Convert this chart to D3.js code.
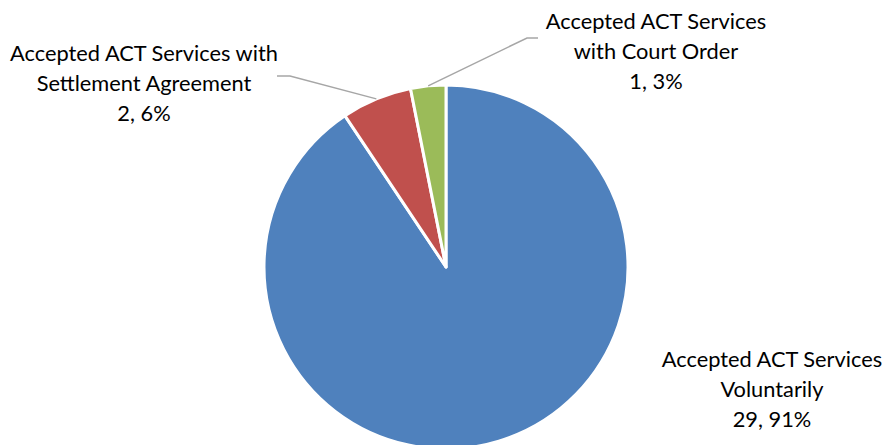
<!DOCTYPE html>
<html>
<head>
<meta charset="utf-8">
<script src="https://cdn.jsdelivr.net/npm/d3@7"></script>
<style>
  html, body { margin: 0; padding: 0; background: #fff; }
  svg { display: block; }
  text { font-family: Lato, "Open Sans", sans-serif; fill: #000; }
</style>
</head>
<body>
<svg id="chart" width="884" height="445"></svg>
<script>
// ACT service acceptance counts
const categories = [
  "Accepted ACT Services Voluntarily",
  "Accepted ACT Services with Settlement Agreement",
  "Accepted ACT Services with Court Order"
];
const counts = [29, 2, 1];
const percents = [91, 6, 3];
const labelLines = [
  ["Accepted ACT Services", "Voluntarily"],
  ["Accepted ACT Services with", "Settlement Agreement"],
  ["Accepted ACT Services", "with Court Order"]
];
const colors = ["#4F81BD", "#C0504D", "#9BBB59"];

const W = 884, H = 445;
const cx = 446, cy = 267, R = 182;
const lineH = 30;

// label blocks: centre x and first baseline y, plus leader knee
const labelLayout = [
  { x: 772, y: 367, leader: null },
  { x: 144, y: 61, leader: { from: [277, 76], knee: [290, 76] } },
  { x: 656, y: 29, leader: { from: [538, 38], knee: [527, 38] } }
];

const svg = d3.select("#chart");

// font size tuned so a line of label text has Calibri-like width
const probe = svg.append("text").style("font-size", "24px").text("Accepted ACT Services with");
const fontSize = 24 * 268 / probe.node().getComputedTextLength();
probe.remove();

const data = categories.map((c, i) => ({ name: c, value: counts[i], pct: percents[i], lines: labelLines[i], color: colors[i], layout: labelLayout[i] }));

const pie = d3.pie().sort(null).value(d => d.value).startAngle(0).endAngle(2 * Math.PI);
const arcs = pie(data);
const arc = d3.arc().innerRadius(0).outerRadius(R);
const edge = d3.arc().innerRadius(R).outerRadius(R);

const g = svg.append("g").attr("transform", `translate(${cx},${cy})`);
g.selectAll("path.slice")
  .data(arcs)
  .join("path")
  .attr("class", "slice")
  .attr("d", arc)
  .attr("fill", d => d.data.color)
  .attr("stroke", "#fff")
  .attr("stroke-width", 3)
  .attr("stroke-linejoin", "round");

// leader lines from label to slice rim at mid-angle
arcs.forEach(a => {
  const L = a.data.layout.leader;
  if (!L) return;
  const mid = (a.startAngle + a.endAngle) / 2;
  const px = cx + R * Math.sin(mid), py = cy - R * Math.cos(mid);
  svg.append("polyline")
    .attr("points", [L.from, L.knee, [px, py]].map(p => p.join(",")).join(" "))
    .attr("fill", "none")
    .attr("stroke", "#A6A6A6")
    .attr("stroke-width", 1.5);
});

// data labels: category, then "value, percent"
data.forEach(d => {
  const t = svg.append("text")
    .attr("text-anchor", "middle")
    .style("font-size", fontSize + "px");
  const lines = d.lines.concat([`${d.value}, ${d.pct}%`]);
  lines.forEach((ln, i) => {
    t.append("tspan").attr("x", d.layout.x).attr("y", d.layout.y + i * lineH).text(ln);
  });
});
</script>
</body>
</html>
